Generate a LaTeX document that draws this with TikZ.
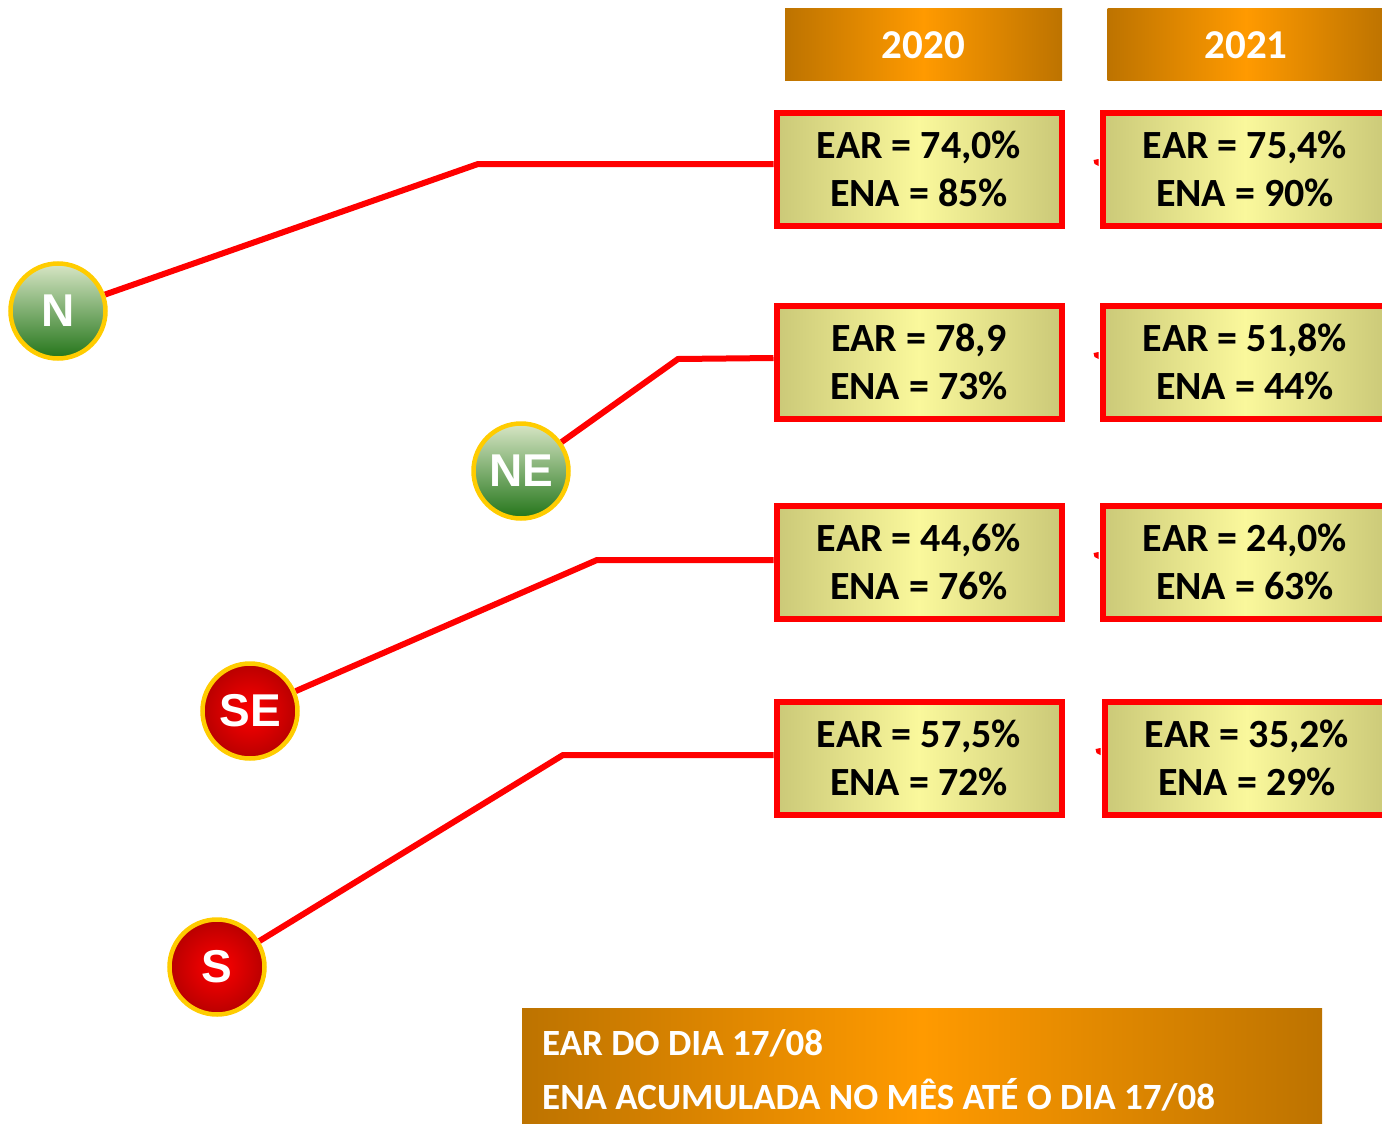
\documentclass[tikz,border=0pt]{standalone}
\usepackage{fontspec}
\setmainfont{Carlito}
\newfontfamily\arialb{Liberation Sans}[BoldFont=Liberation Sans Bold]
\usetikzlibrary{backgrounds}
\definecolor{hdrdark}{HTML}{BD7300}
\definecolor{hdrlight}{HTML}{FF9A00}
\definecolor{boxedge}{HTML}{CBC978}
\definecolor{boxmid}{HTML}{FAF89C}
\definecolor{ringy}{HTML}{FFCC00}
\definecolor{gtop}{HTML}{D8E6C6}
\definecolor{gbot}{HTML}{237519}
\definecolor{rin}{HTML}{FF0000}
\definecolor{rout}{HTML}{B80000}
\tikzset{
  hdr/.style={minimum width=277, minimum height=72, inner sep=0,
    left color=hdrdark, right color=hdrdark, middle color=hdrlight,
    text=white, font=\fontsize{41}{42}\selectfont\bfseries},
  databox/.style={draw=red, line width=6, minimum width=285, minimum height=113,
    inner sep=0, left color=boxedge, right color=boxedge, middle color=boxmid,
    align=center, text=black, font=\fontsize{40}{48}\selectfont\bfseries},
  region/.style={circle, draw=ringy, line width=4.5, minimum size=95, inner sep=0,
    text=white, font=\arialb\fontsize{46}{46}\selectfont\bfseries},
  green/.style={region, top color=gtop, bottom color=gbot},
  redball/.style={region, inner color=rin, outer color=rout},
  link/.style={draw=red, line width=6},
  notebox/.style={minimum width=800, minimum height=118, inner sep=0,
    left color=hdrdark, right color=hdrdark, middle color=hdrlight},
  notetext/.style={text=white, anchor=base west, inner sep=0,
    font=\fontsize{37}{40}\selectfont\bfseries},
}
\begin{document}
\begin{tikzpicture}[x=1pt,y=-1pt]
\clip (0,0) rectangle (1382,1124);

% headers
\node[hdr] (h20) at (923.5,45) {2020};
\node[hdr] (h21) at (1246,45) {2021};

% 2020 boxes
\node[databox] (a1) at (919,169) {EAR = 74,0\%\\ENA = 85\%};
\node[databox] (a2) at (919,362) {EAR = 78,9\\ENA = 73\%};
\node[databox] (a3) at (919,562) {EAR = 44,6\%\\ENA = 76\%};
\node[databox] (a4) at (919,758) {EAR = 57,5\%\\ENA = 72\%};
% 2021 boxes
\node[databox] (b1) at (1245,169) {EAR = 75,4\%\\ENA = 90\%};
\node[databox] (b2) at (1245,362) {EAR = 51,8\%\\ENA = 44\%};
\node[databox] (b3) at (1245,562) {EAR = 24,0\%\\ENA = 63\%};
\node[databox] (b4) at (1247,758) {EAR = 35,2\%\\ENA = 29\%};

% small marks at left of 2021 boxes
\foreach \b in {b1,b2,b3,b4}{
  \fill[red] ([shift={(-6,-9)}]\b.west) -- ([shift={(-1,-10)}]\b.west) -- ([shift={(-1,-3)}]\b.west) -- ([shift={(-5,-5)}]\b.west) -- cycle;
}

% region circles
\node[green] (N) at (58,311) {N};
\node[green] (NE) at (521,471) {NE};
\node[redball] (SE) at (250,711) {SE};
\node[redball] (S) at (217,967) {S};

% bends
\coordinate (nb) at (478,164);
\coordinate (neb) at (678,359);
\coordinate (seb) at (597,560);
\coordinate (sb) at (563,755);

\begin{scope}[on background layer]
\draw[link] (N) -- (nb) -- (a1.west |- nb);
\draw[link] (NE) -- (neb) -- ([yshift=1]a2.west |- neb);
\draw[link] (SE) -- (seb) -- (a3.west |- seb);
\draw[link] (S) -- (sb) -- (a4.west |- sb);
\end{scope}

% note
\node[notebox] (note) at (922,1067) {};
\node[notetext] (l1) at (542,1055) {EAR DO DIA 17/08};
\node[notetext] (l2) at (542,1109) {ENA ACUMULADA NO MÊS ATÉ O DIA 17/08};
\end{tikzpicture}
\end{document}
